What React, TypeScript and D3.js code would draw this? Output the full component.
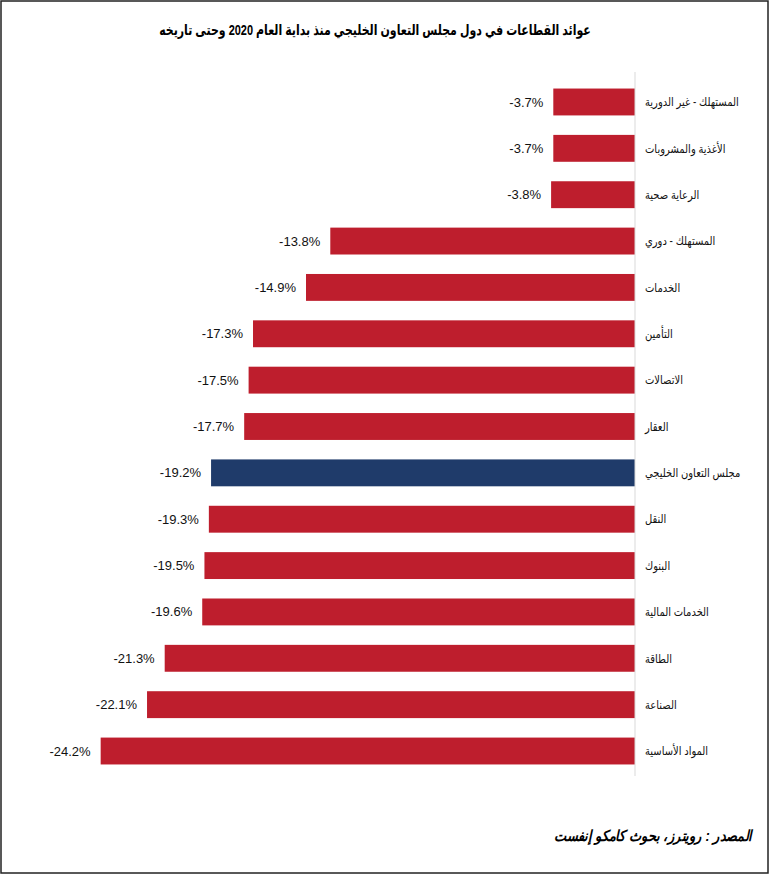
import React from "react";
import * as d3 from "d3";

const title = "عوائد القطاعات في دول مجلس التعاون الخليجي منذ بداية العام 2020 وحتى تاريخه";
const source = "المصدر : رويترز، بحوث كامكو إنفست";

const sectors = [
  "المستهلك - غير الدورية",
  "الأغذية والمشروبات",
  "الرعاية صحية",
  "المستهلك - دوري",
  "الخدمات",
  "التأمين",
  "الاتصالات",
  "العقار",
  "مجلس التعاون الخليجي",
  "النقل",
  "البنوك",
  "الخدمات المالية",
  "الطاقة",
  "الصناعة",
  "المواد الأساسية",
];
const returns = [-3.7, -3.7, -3.8, -13.8, -14.9, -17.3, -17.5, -17.7, -19.2, -19.3, -19.5, -19.6, -21.3, -22.1, -24.2];
const highlight = "مجلس التعاون الخليجي";

const W = 770;
const H = 875;
const font = "'Liberation Sans', Arial, 'DejaVu Sans', sans-serif";

const App = () => {
  const x = d3.scaleLinear().domain([-25, 0]).range([83, 635]);
  const y = d3
    .scaleBand<string>()
    .domain(sectors)
    .range([78.8, 774.2])
    .paddingInner(0.42)
    .paddingOuter(0.21);

  return (
    <div style={{ position: "absolute", left: 0, top: 0 }}>
      <svg width={W} height={H} style={{ display: "block", background: "#fff" }}>
        <rect x={1} y={1} width={W - 3} height={H - 3} fill="#fff" stroke="#222" strokeWidth={1.5} />

        {/* title, squeezed horizontally so the wide Arabic face fits like the original */}
        <g transform="translate(375,35) scale(0.73,1)">
          <text x={0} y={0} textAnchor="middle" fontFamily={font} fontWeight="bold" fontSize={15} fill="#000">
            {title}
          </text>
        </g>

        {sectors.map((s, i) => {
          const v = returns[i];
          const yy = y(s) as number;
          const cy = yy + y.bandwidth() / 2;
          return (
            <g key={s}>
              <rect
                x={x(v)}
                y={yy}
                width={x(0) - x(v)}
                height={y.bandwidth()}
                fill={s === highlight ? "#1F3B6A" : "#BE1E2D"}
              />
              <text
                x={x(v) - 10}
                y={cy}
                dy="0.35em"
                textAnchor="end"
                fontFamily={font}
                fontSize={13}
                fill="#111"
              >
                {v.toFixed(1) + "%"}
              </text>
              <g transform={`translate(645,${cy}) scale(0.83,1)`}>
                <text x={0} y={0} dy="0.35em" textAnchor="start" fontFamily={font} fontSize={12} fill="#111">
                  {s}
                </text>
              </g>
            </g>
          );
        })}

        <line x1={x(0)} x2={x(0)} y1={72} y2={776} stroke="#d9d9d9" strokeWidth={1} />

        <g transform="translate(752,841) scale(0.86,1)">
          <text
            x={0}
            y={0}
            textAnchor="end"
            fontFamily={font}
            fontWeight="bold"
            fontStyle="italic"
            fontSize={15}
            fill="#000"
          >
            {source}
          </text>
        </g>
      </svg>
    </div>
  );
};

export default App;
